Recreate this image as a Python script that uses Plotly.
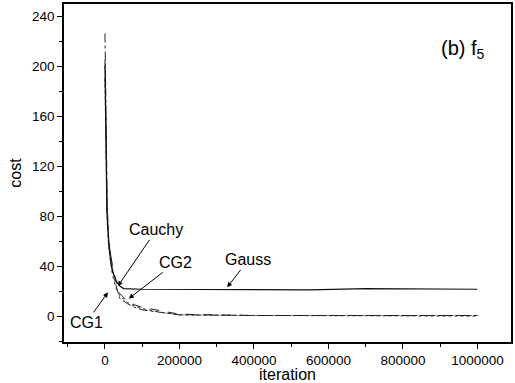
import plotly.graph_objects as go

# Data
gauss_x = [0, 2000, 5000, 10000, 15000, 20000, 30000, 40000, 50000, 100000, 200000, 400000, 550000, 700000, 1000000]
gauss_y = [200, 130, 85, 58, 44, 36, 28, 24, 22, 21.5, 21.5, 21.5, 21, 22, 21.5]

cauchy_x = [0, 3000, 6000, 10000, 15000, 20000, 30000, 40000, 60000, 80000, 100000, 150000, 200000, 400000, 1000000]
cauchy_y = [226, 140, 90, 62, 48, 38, 24, 14, 10, 7, 5, 3, 1, 0.5, 0.5]

cg1_x = [0, 3000, 6000, 10000, 15000, 20000, 30000, 40000, 60000, 80000, 100000, 150000, 200000, 400000, 1000000]
cg1_y = [190, 110, 75, 55, 42, 33, 22, 16, 11, 8, 6, 3, 1, 0.5, 0]

cg2_x = [0, 3000, 6000, 10000, 15000, 20000, 30000, 40000, 60000, 80000, 100000, 150000, 200000, 400000, 1000000]
cg2_y = [205, 120, 80, 60, 50, 40, 28, 18, 12, 9, 7, 4, 1.5, 0.5, 0.5]

fig = go.Figure()
fig.add_trace(go.Scatter(x=cauchy_x, y=cauchy_y, mode="lines",
                         line=dict(color="#222", width=1, dash="dashdot"), name="Cauchy"))
fig.add_trace(go.Scatter(x=cg1_x, y=cg1_y, mode="lines",
                         line=dict(color="#333", width=1, dash="dot"), name="CG1"))
fig.add_trace(go.Scatter(x=cg2_x, y=cg2_y, mode="lines",
                         line=dict(color="#222", width=1, dash="dash"), name="CG2"))
fig.add_trace(go.Scatter(x=gauss_x, y=gauss_y, mode="lines",
                         line=dict(color="#111", width=1.2), name="Gauss"))

font = "Liberation Sans, Arial, sans-serif"

# label text position (tx, ty) and arrow head (hx, hy)
callouts = [
    dict(text="Cauchy", tx=138000, ty=69, hx=34700, hy=24),
    dict(text="CG2", tx=190000, ty=43, hx=64000, hy=14),
    dict(text="Gauss", tx=385000, ty=45, hx=328000, hy=23),
    dict(text="CG1", tx=-50000, ty=-5, hx=8000, hy=19),
]
anns = []
for c in callouts:
    anns.append(dict(text=c["text"], x=c["hx"], y=c["hy"], ax=c["tx"], ay=c["ty"],
                     xref="x", yref="y", axref="x", ayref="y",
                     showarrow=True, arrowhead=2, arrowsize=1, arrowwidth=1,
                     arrowcolor="black", standoff=0,
                     font=dict(size=16, color="black", family=font)))
anns.append(dict(text="(b) f<sub>5</sub>", x=962000, y=213, xref="x", yref="y",
                 showarrow=False, font=dict(size=20, color="black", family=font)))

fig.update_layout(
    width=515, height=383,
    margin=dict(l=64, r=2, t=3, b=41),
    paper_bgcolor="white", plot_bgcolor="white",
    showlegend=False,
    font=dict(family=font, color="black", size=13.5),
    annotations=anns,
    xaxis=dict(range=[-110000, 1090000], tick0=0, dtick=200000, tickformat="d",
               showgrid=False, zeroline=False, showline=True, linecolor="black",
               linewidth=1.5, mirror=True, ticks="outside", ticklen=5, tickcolor="black",
               minor=dict(dtick=100000, ticks="outside", ticklen=3, tickcolor="black"),
               title=dict(text="iteration", font=dict(size=16), standoff=0)),
    yaxis=dict(range=[-20.7, 249.6], tick0=0, dtick=40,
               showgrid=False, zeroline=False, showline=True, linecolor="black",
               linewidth=1.5, mirror=True, ticks="outside", ticklen=5, tickcolor="black",
               minor=dict(dtick=20, ticks="outside", ticklen=3, tickcolor="black"),
               title=dict(text="cost", font=dict(size=16), standoff=6)),
)

fig.write_html("out.html")
